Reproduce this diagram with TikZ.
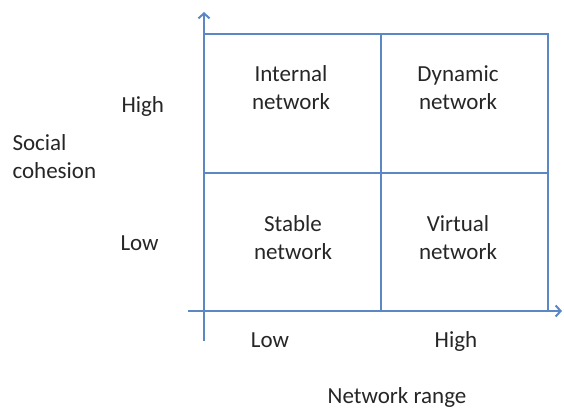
\documentclass[tikz,border=0pt]{standalone}
\usepackage{fontspec}
\setmainfont{Carlito}
\usepackage{xcolor}
\usepackage{tikz}
\usetikzlibrary{arrows.meta}
\definecolor{gridblue}{HTML}{5B87C5}

\begin{document}
\begin{tikzpicture}[x=1pt, y=-1pt, every node/.style={font=\fontsize{23}{28}\selectfont, text=black!85}]
	\useasboundingbox (0,0) rectangle (564,409);
	
	% the four cells
	\draw[gridblue, line width=2pt] (204,34) rectangle (548,311);
	\draw[gridblue, line width=2pt] (380.5,34) -- (380.5,311);
	\draw[gridblue, line width=2pt] (204,172.5) -- (548,172.5);
	
	% axes
	\coordinate (yfoot) at (204,341);
	\coordinate (ytop) at (204,12);
	\coordinate (xfoot) at (188,311);
	\coordinate (xtop) at (562,311);
	\draw[-{Straight Barb[length=5pt, width=11pt]}, gridblue, line width=2pt] (yfoot) -- (ytop);
	\draw[-{Straight Barb[length=5pt, width=11pt]}, gridblue, line width=2pt] (xfoot) -- (xtop);
	
	\begin{scope}[cell/.style={align=center, inner sep=0pt}]
		\node[cell] (internal) at (291,88) {Internal\\network};
		\node[cell] (dynamic) at (458,88) {Dynamic\\network};
		\node[cell] (stable) at (293,238) {Stable\\network};
		\node[cell] (virtual) at (458,238) {Virtual\\network};
	\end{scope}
	
	\node[anchor=west] (yhigh) at (118,106) {High};
	\node[anchor=west] (ylow) at (117,243) {Low};
	\node[align=left, anchor=west] (ylabel) at (9,157) {Social\\cohesion};
	\node (xlow) at (270,340) {Low};
	\node (xhigh) at (456,341) {High};
	\node (xlabel) at (397,397) {Network range};
\end{tikzpicture}
\end{document}
